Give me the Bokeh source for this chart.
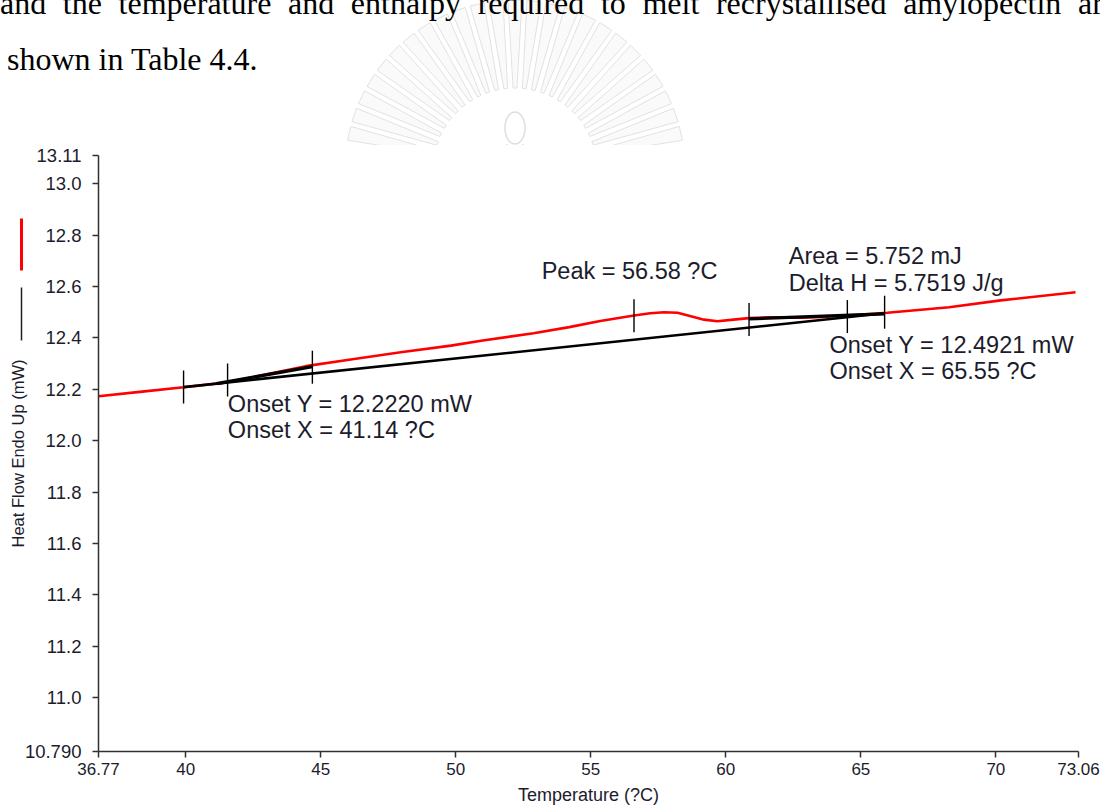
import math
from bokeh.plotting import figure
from bokeh.models import Range1d, FixedTicker, Label, LinearAxis, Div
from bokeh.layouts import column
from bokeh.embed import file_html
from bokeh.resources import INLINE

# ---------------- data ----------------
# sample heat-flow curve (red)
red_T = [36.77, 38.30, 39.92, 41.55, 43.00, 44.45, 46.11, 47.96, 49.82, 51.00,
         52.88, 54.20, 55.35, 56.60, 57.20, 57.71, 58.21, 58.71, 59.19, 59.69,
         60.19, 60.86, 61.70, 62.77, 63.60, 64.50, 65.98, 68.27, 70.18, 72.95]
red_v = [12.173, 12.190, 12.208, 12.227, 12.258, 12.290, 12.316, 12.344, 12.370, 12.390,
         12.418, 12.442, 12.466, 12.487, 12.496, 12.500, 12.498, 12.484, 12.471, 12.465,
         12.470, 12.477, 12.480, 12.479, 12.482, 12.487, 12.498, 12.519, 12.546, 12.578]

# peak-integration baseline and onset tangents (black)
base_T = [39.92, 65.88]
base_v = [12.2085, 12.4958]
tan1_T = [41.14, 44.69]
tan1_v = [12.2220, 12.2880]
tan2_T = [60.86, 65.88]
tan2_v = [12.4740, 12.4934]

# vertical cursor marks on the curve
mark_T = [39.92, 41.55, 44.69, 56.60, 60.86, 64.50, 65.88]
mark_v = [12.209, 12.236, 12.286, 12.486, 12.472, 12.483, 12.500]

# axes
x_ticks = [36.77, 40, 45, 50, 55, 60, 65, 70, 73.06]
x_tick_labels = ["36.77", "40", "45", "50", "55", "60", "65", "70", "73.06"]
y_ticks = [10.79, 11.0, 11.2, 11.4, 11.6, 11.8, 12.0, 12.2, 12.4, 12.6, 12.8, 13.0, 13.11]
y_tick_labels = ["10.790", "11.0", "11.2", "11.4", "11.6", "11.8", "12.0", "12.2",
                 "12.4", "12.6", "12.8", "13.0", "13.11"]

# line-legend swatches beside the y title (mW extent of each swatch)
legend_red = (12.662, 12.865)
legend_black = (12.390, 12.596)

# result annotations: text, x (degC), y (mW) of left/middle anchor
notes = [
    ("Peak = 56.58 ?C", 53.18, 12.660),
    ("Area = 5.752 mJ", 62.33, 12.717),
    ("Delta H = 5.7519 J/g", 62.33, 12.614),
    ("Onset Y = 12.4921 mW", 63.84, 12.372),
    ("Onset X = 65.55 ?C", 63.84, 12.270),
    ("Onset Y = 12.2220 mW", 41.56, 12.144),
    ("Onset X = 41.14 ?C", 41.56, 12.041),
]

# page text above the chart
line1_words = ["and", "the", "temperature", "and", "enthalpy", "required", "to",
               "melt", "recrystallised", "amylopectin", "are"]
line2_text = "shown in Table 4.4."

# ---------------- page header (text + faint watermark) ----------------
TOP_H = 145
cx, cy, r1, r2 = 515, 170, 82, 170
rays = []
n_rays = 27
for i in range(n_rays):
    a = math.radians(186 + i * (168 / (n_rays - 1)))
    d1, d2 = math.radians(1.3), math.radians(2.4)
    pts = [(cx + r1 * math.cos(a - d1), cy + r1 * math.sin(a - d1)),
           (cx + r2 * math.cos(a - d2), cy + r2 * math.sin(a - d2)),
           (cx + r2 * math.cos(a + d2), cy + r2 * math.sin(a + d2)),
           (cx + r1 * math.cos(a + d1), cy + r1 * math.sin(a + d1))]
    rays.append('<polygon points="%s" fill="#fafafa" stroke="#e2e2e2" stroke-width="1"/>'
                % " ".join("%.1f,%.1f" % pt for pt in pts))
bulb = ('<ellipse cx="515" cy="128" rx="10" ry="16" fill="none" stroke="#dedede" stroke-width="1.5"/>'
        '<path d="M507 144 L507 170 M523 144 L523 170 M503 152 L527 152" '
        'fill="none" stroke="#dedede" stroke-width="1.5"/>')
svg = ('<svg width="1100" height="%d" style="position:absolute;left:0;top:0">%s%s</svg>'
       % (TOP_H, "".join(rays), bulb))

html = f"""<div style="position:relative;width:1100px;height:{TOP_H}px;overflow:hidden;">
{svg}
<div style="position:absolute;left:0;top:0;width:1100px;overflow:hidden;
 font-family:'Liberation Serif',serif;font-size:32px;line-height:56px;color:#000;">
<div style="margin-top:-25px;width:1117px;text-align:justify;text-align-last:justify;">{' '.join(line1_words)}</div>
<div style="padding-left:7px;">{line2_text}</div>
</div></div>"""

header = Div(text=html, width=1100, height=TOP_H, margin=0,
             styles={"overflow": "hidden"})

# ---------------- figure ----------------
p = figure(width=1100, height=810 - TOP_H, output_backend="svg", toolbar_location=None,
           x_range=Range1d(36.77, 73.06), y_range=Range1d(10.79, 13.11),
           min_border_left=98, min_border_right=22, min_border_top=155 - TOP_H,
           min_border_bottom=59, margin=0)
p.outline_line_color = None
p.grid.visible = False
p.background_fill_color = "white"
p.border_fill_color = "white"

SANS = "Liberation Sans"
TXT = "#1c1c2c"

for ax in (p.xaxis[0], p.yaxis[0]):
    ax.axis_line_color = "#303030"
    ax.axis_line_width = 1.5
    ax.major_tick_line_color = "#303030"
    ax.major_tick_line_width = 1.5
    ax.major_tick_out = 6
    ax.major_tick_in = 0
    ax.minor_tick_line_color = None
    ax.major_label_text_font = SANS
    ax.major_label_text_color = TXT

p.xaxis.ticker = FixedTicker(ticks=x_ticks)
p.xaxis.major_label_overrides = dict(zip(x_ticks, x_tick_labels))
p.xaxis.major_label_text_font_size = "17px"
p.xaxis.major_label_standoff = 5
p.xaxis.axis_label = "Temperature (?C)"
p.xaxis.axis_label_text_font = SANS
p.xaxis.axis_label_text_font_style = "normal"
p.xaxis.axis_label_text_font_size = "18px"
p.xaxis.axis_label_text_color = TXT
p.xaxis.axis_label_standoff = 7

p.yaxis.ticker = FixedTicker(ticks=y_ticks)
p.yaxis.major_label_overrides = dict(zip(y_ticks, y_tick_labels))
p.yaxis.major_label_text_font_size = "18.5px"
p.yaxis.major_label_standoff = 11


def bare_axis(**kw):
    ax = LinearAxis(ticker=FixedTicker(ticks=[]), major_tick_line_color=None,
                    minor_tick_line_color=None, major_label_standoff=0,
                    major_tick_out=0, major_tick_in=0, **kw)
    return ax


# line legend swatches (red above black) and the y title, left of tick labels
p.add_layout(bare_axis(bounds=legend_red, axis_line_color="#ff0000",
                       axis_line_width=3), "left")
p.add_layout(bare_axis(bounds=legend_black, axis_line_color="#202020",
                       axis_line_width=1.5), "left")
p.add_layout(bare_axis(axis_line_color=None, axis_label="Heat Flow Endo Up (mW)",
                       axis_label_standoff=-5, axis_label_text_font=SANS,
                       axis_label_text_font_style="normal",
                       axis_label_text_font_size="16.5px",
                       axis_label_text_color=TXT), "left")

# curves
p.line(red_T, red_v, line_color="#ff0000", line_width=2.6)
p.line(base_T, base_v, line_color="#000000", line_width=2.6)
p.line(tan1_T, tan1_v, line_color="#000000", line_width=3.4)
p.line(tan2_T, tan2_v, line_color="#000000", line_width=3.4)
p.scatter(mark_T, mark_v, marker="dash", angle=math.pi / 2, size=33,
          line_color="#000000", line_width=1.4)

for txt, xx, yy in notes:
    p.add_layout(Label(x=xx, y=yy, text=txt, text_font=SANS, text_font_size="23.5px",
                       text_color=TXT, text_align="left", text_baseline="middle"))

layout = column(header, p, spacing=0, margin=0)
open("out.html", "w").write(file_html(layout, INLINE))
